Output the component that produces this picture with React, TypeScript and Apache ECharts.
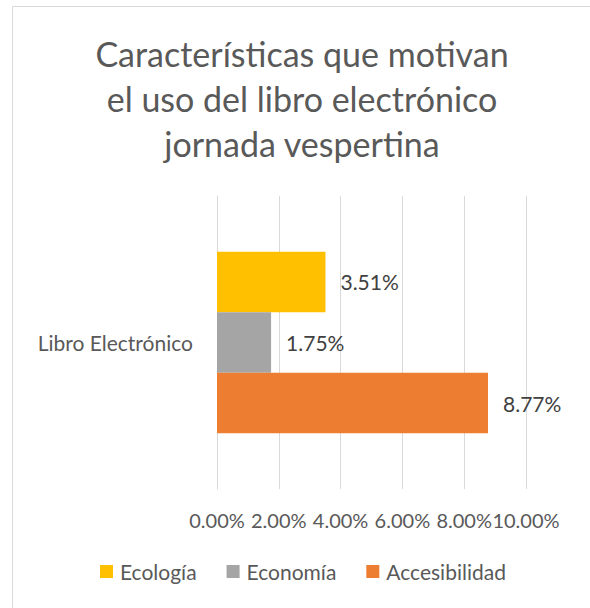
import React, { useEffect, useRef } from "react";
import * as echarts from "echarts";

const titleLines = ["Características que motivan", "el uso del libro electrónico", "jornada vespertina"];
const categories = ["Libro Electrónico"];
const seriesNames = ["Ecología", "Economía", "Accesibilidad"];
const seriesColors = ["#FFC000", "#A5A5A5", "#ED7D31"];
const ecologia = [3.51];
const economia = [1.75];
const accesibilidad = [8.77];
const seriesValues = [ecologia, economia, accesibilidad];

const FONT = "Lato, 'Open Sans', sans-serif";

export default function App() {
  const ref = useRef<HTMLDivElement>(null);
  useEffect(() => {
    document.body.style.margin = "0";
    if (!ref.current) return;
    const chart = echarts.init(ref.current, null, { renderer: "svg" });
    chart.setOption({
      animation: false,
      backgroundColor: "#ffffff",
      textStyle: { fontFamily: FONT },
      title: {
        text: titleLines.join("\n"),
        left: 302,
        top: 31,
        padding: 0,
        textAlign: "center",
        textStyle: {
          fontFamily: FONT,
          fontSize: 34,
          fontWeight: "normal",
          color: "#595959",
          lineHeight: 45,
        },
      },
      graphic: [
        {
          type: "rect",
          shape: { x: 12.5, y: 6.5, width: 800, height: 800 },
          style: { fill: "none", stroke: "#d9d9d9", lineWidth: 1 },
          silent: true,
          z: -10,
        },
      ],
      legend: {
        data: seriesNames,
        left: 100,
        top: 561,
        icon: "rect",
        itemWidth: 13,
        itemHeight: 13,
        itemGap: 30,
        padding: 0,
        textStyle: { fontFamily: FONT, fontSize: 21, color: "#595959", padding: [0, 0, 0, 2] },
      },
      grid: { left: 217, right: 64, top: 196, bottom: 119, containLabel: false },
      xAxis: {
        type: "value",
        min: 0,
        max: 10,
        interval: 2,
        axisLine: { show: false },
        axisTick: { show: false },
        splitLine: { show: true, lineStyle: { color: "#d9d9d9", width: 1 } },
        axisLabel: {
          margin: 21,
          fontFamily: FONT,
          fontSize: 20,
          color: "#595959",
          showMinLabel: true,
          showMaxLabel: true,
          hideOverlap: false,
          formatter: (v: number) => v.toFixed(2) + "%",
        },
      },
      yAxis: {
        type: "category",
        data: categories,
        inverse: true,
        axisLine: { show: true, lineStyle: { color: "#d9d9d9" } },
        axisTick: { show: false },
        axisLabel: { margin: 24, fontFamily: FONT, fontSize: 21, color: "#595959" },
      },
      series: seriesNames.map((name, i) => ({
        name,
        type: "bar",
        data: seriesValues[i],
        barGap: "0%",
        barCategoryGap: "38%",
        itemStyle: { color: seriesColors[i] },
        label: {
          show: true,
          position: "right",
          distance: 15,
          fontFamily: FONT,
          fontSize: 21,
          color: "#404040",
          formatter: (p: any) => Number(p.value).toFixed(2) + "%",
        },
      })),
    });
    return () => chart.dispose();
  }, []);
  return <div ref={ref} style={{ width: 590, height: 608 }} />;
}
